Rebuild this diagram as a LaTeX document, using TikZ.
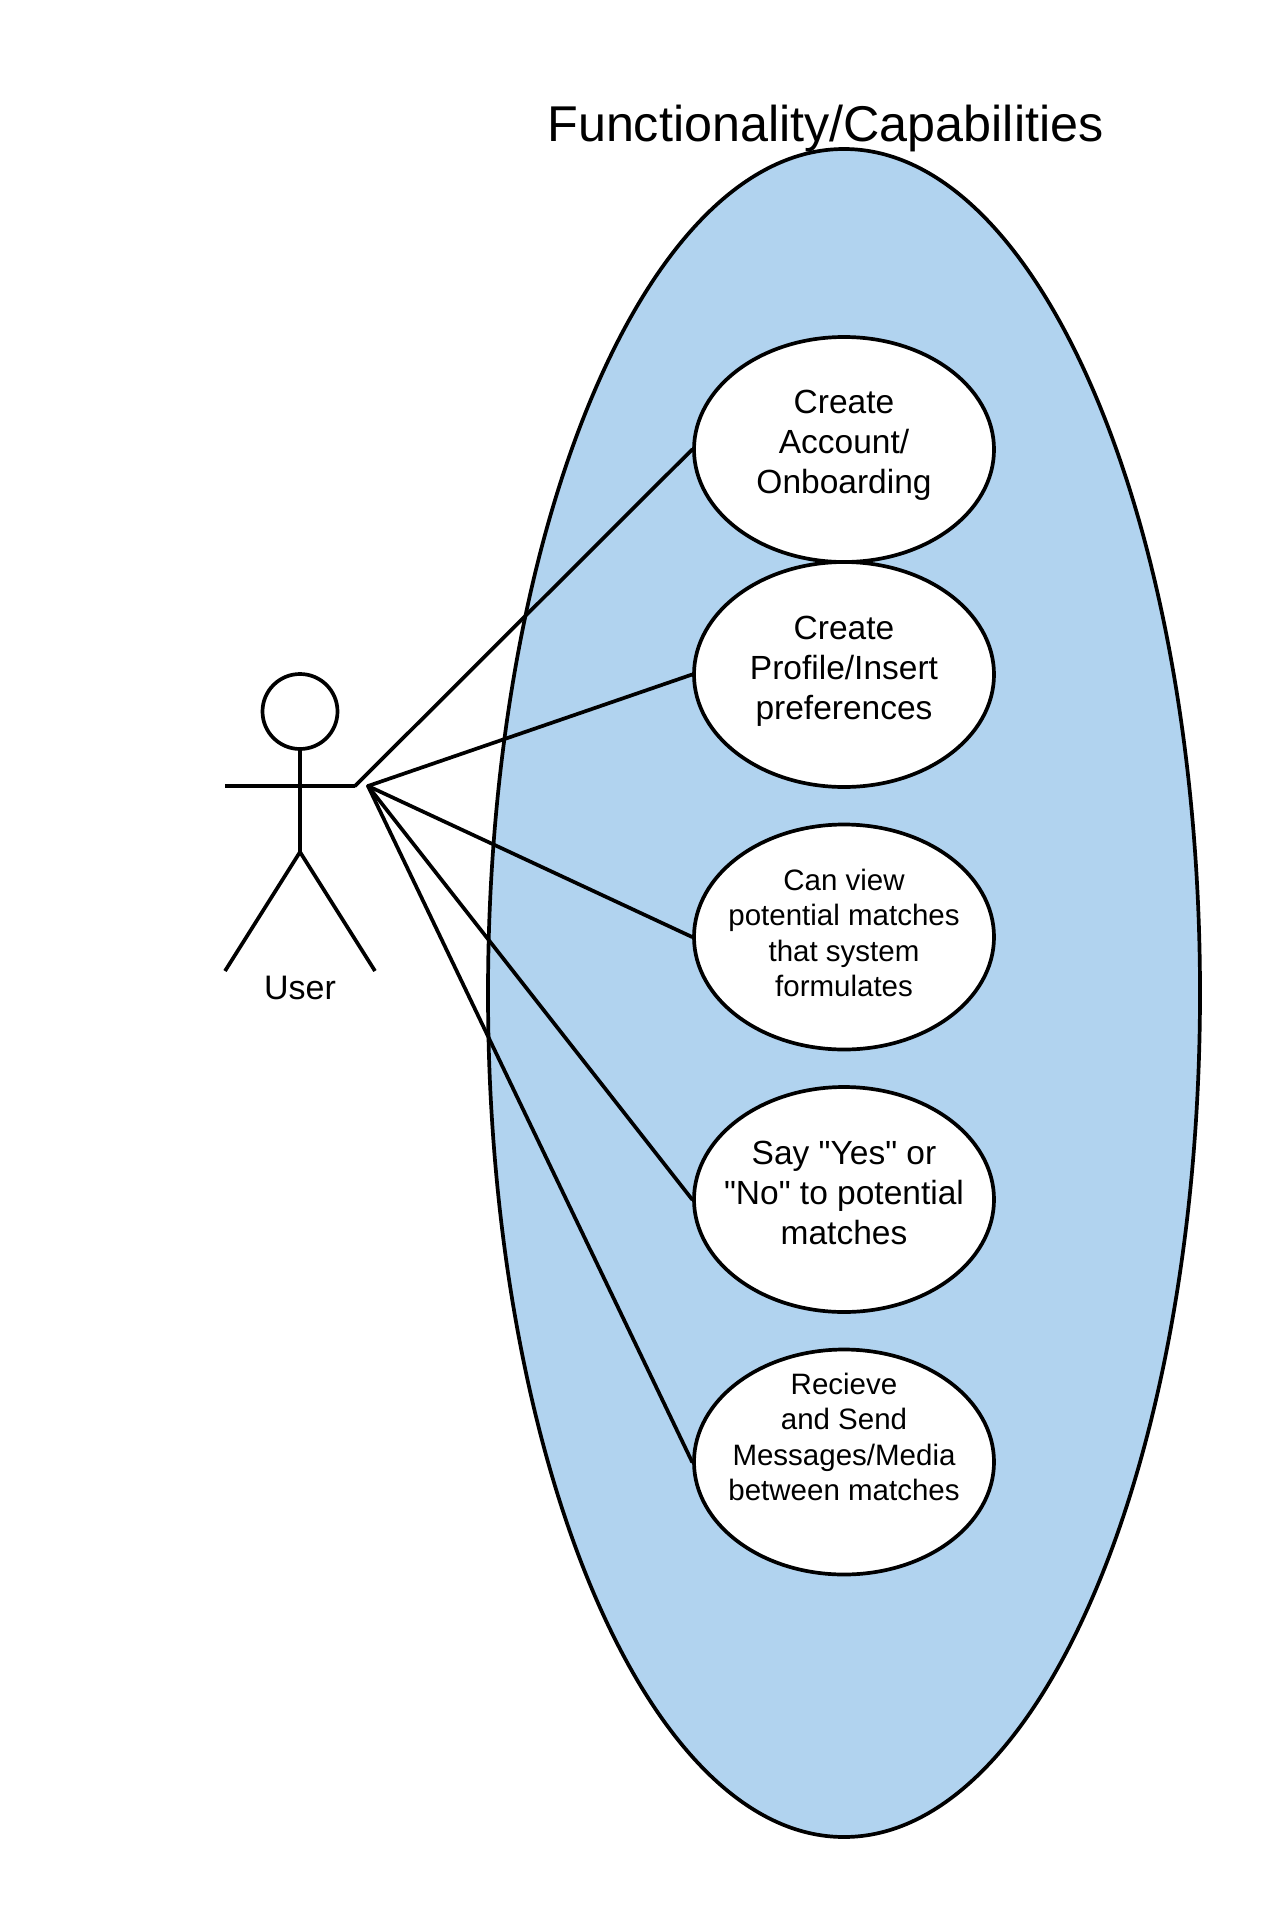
\documentclass[tikz,border=0pt]{standalone}
\usepackage{fontspec}
\setmainfont{Liberation Sans}[Ligatures=TeXOff]
\usetikzlibrary{shapes.geometric}
\definecolor{sysblue}{HTML}{B1D3EF}
\tikzset{
  px/.style={x=1pt,y=-1pt},
  line/.style={draw=black,line width=3.7pt},
  usecase/.style={ellipse,line,fill=white,inner sep=0pt,minimum width=300pt,minimum height=225pt},
  bigtext/.style={align=center,inner sep=0pt,font=\fontsize{33.5}{40}\selectfont},
  smalltext/.style={align=center,inner sep=0pt,font=\fontsize{29.5}{35.4}\selectfont},
  link/.style={line,line cap=round},
}
\begin{document}
\begin{tikzpicture}[px]
\useasboundingbox (0,0) rectangle (1275,1913);
\node[ellipse,line,fill=sysblue,inner sep=0pt,minimum width=712pt,minimum height=1688pt] (sys) at (844,993) {};
\node[font=\fontsize{50.3}{58}\selectfont] (title) at (825.5,128) {Functionality/Capabilities};
\node[usecase] (uc1) at (844,449.5) {};
\node[usecase] (uc2) at (844,674.5) {};
\node[usecase] (uc3) at (844,937) {};
\node[usecase] (uc4) at (844,1199.5) {};
\node[usecase] (uc5) at (844,1462) {};
\node[bigtext] (t1) at (844,445.5) {Create\\Account/\\Onboarding};
\node[bigtext] (t2) at (844,671) {Create\\Profile/Insert\\preferences};
\node[smalltext] (t3) at (844,933) {Can view\\potential matches\\that system\\formulates};
\node[bigtext] (t4) at (844,1192.5) {Say "Yes" or\\"No" to potential\\matches};
\node[smalltext] (t5) at (844,1437) {Recieve\\and Send\\Messages/Media\\between matches};
\node[circle,line,inner sep=0pt,minimum size=75pt] (head) at (300,711.5) {};
\coordinate (hip) at (300,852);
\coordinate (armL) at (225,786);
\coordinate (armR) at (355,786);
\coordinate (hand) at (368,786);
\coordinate (footL) at (225,971);
\coordinate (footR) at (375,971);
\node[font=\fontsize{34}{40}\selectfont] (user) at (300,987.5) {User};
\draw[line] (head.south) -- (hip);
\draw[line] (armL) -- (armR);
\draw[line] (footL) -- (hip) -- (footR);
\draw[link] (armR) -- (uc1.west);
\foreach \t in {uc2,uc3,uc4,uc5}{\draw[link] (hand) -- (\t.west);}
\end{tikzpicture}
\end{document}
